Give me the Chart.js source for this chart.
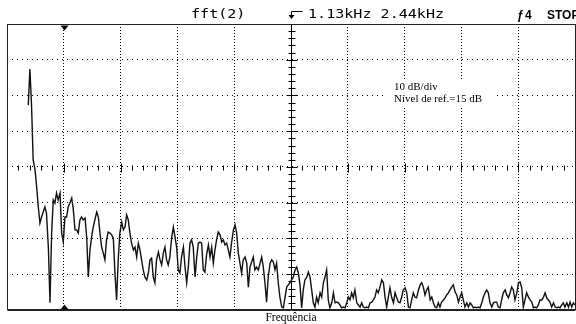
<!DOCTYPE html>
<html>
<head>
<meta charset="utf-8">
<title>fft(2)</title>
<script src="https://cdn.jsdelivr.net/npm/chart.js@4.4.1/dist/chart.umd.min.js"></script>
<style>
  html, body { margin: 0; padding: 0; background: #fff; }
  #wrap { width: 576px; height: 324px; position: relative; overflow: hidden; }
</style>
</head>
<body>
<div id="wrap"><canvas id="chart" width="576" height="324"></canvas></div>
<script>
// frequency of each FFT bin (Hz)
var freqHz = [
    0, 7, 14, 21, 29, 36, 43, 50, 57, 64,
    71, 78, 86, 93, 100, 107, 114, 121, 128, 136,
    143, 150, 157, 164, 171, 178, 186, 193, 200, 207,
    214, 221, 228, 235, 243, 250, 257, 264, 271, 278,
    285, 293, 300, 307, 314, 321, 328, 335, 342, 350,
    357, 364, 371, 378, 385, 392, 400, 407, 414, 421,
    428, 435, 442, 450, 457, 464, 471, 478, 485, 492,
    499, 507, 514, 521, 528, 535, 542, 549, 557, 564,
    571, 578, 585, 592, 599, 606, 614, 621, 628, 635,
    642, 649, 656, 664, 671, 678, 685, 692, 699, 706,
    714, 721, 728, 735, 742, 749, 756, 763, 771, 778,
    785, 792, 799, 806, 813, 821, 828, 835, 842, 849,
    856, 863, 870, 878, 885, 892, 899, 906, 913, 920,
    928, 935, 942, 949, 956, 963, 970, 977, 985, 992,
    999, 1006, 1013, 1020, 1027, 1035, 1042, 1049, 1056, 1063,
    1070, 1077, 1085, 1092, 1099, 1106, 1113, 1120, 1127, 1134,
    1142, 1149, 1156, 1163, 1170, 1177, 1184, 1192, 1199, 1206,
    1213, 1220, 1227, 1234, 1241, 1249, 1256, 1263, 1270, 1277,
    1284, 1291, 1299, 1306, 1313, 1320, 1327, 1334, 1341, 1349,
    1356, 1363, 1370, 1377, 1384, 1391, 1398, 1406, 1413, 1420,
    1427, 1434, 1441, 1448, 1456, 1463, 1470, 1477, 1484, 1491,
    1498, 1505, 1513, 1520, 1527, 1534, 1541, 1548, 1555, 1563,
    1570, 1577, 1584, 1591, 1598, 1605, 1613, 1620, 1627, 1634,
    1641, 1648, 1655, 1662, 1670, 1677, 1684, 1691, 1698, 1705,
    1712, 1720, 1727, 1734, 1741, 1748, 1755, 1762, 1769, 1777,
    1784, 1791, 1798, 1805, 1812, 1819, 1827, 1834, 1841, 1848,
    1855, 1862, 1869, 1877, 1884, 1891, 1898, 1905, 1912, 1919,
    1926, 1934, 1941, 1948, 1955, 1962, 1969, 1976, 1984, 1991,
    1998, 2005, 2012, 2019, 2026, 2033, 2041, 2048, 2055, 2062,
    2069, 2076, 2083, 2091, 2098, 2105, 2112, 2119, 2126, 2133,
    2141, 2148, 2155, 2162, 2169, 2176, 2183, 2190, 2198, 2205,
    2212, 2219, 2226, 2233, 2240, 2248, 2255, 2262, 2269, 2276,
    2283, 2290, 2297, 2305, 2312, 2319, 2326, 2333, 2340, 2347
];

// level of each bin (dB)
var levelDb = [
    -7.7, 2.4, -7.7, -23.0, -25.8, -30.6, -36.2, -40.7, -39.0, -37.6,
    -36.2, -37.9, -47.4, -63.0, -43.5, -34.2, -35.1, -32.3, -34.2, -32.3,
    -43.5, -46.0, -39.0, -39.0, -36.2, -35.1, -33.7, -37.0, -42.6, -42.6,
    -43.5, -39.8, -39.0, -39.8, -39.3, -44.6, -55.8, -48.2, -44.6, -41.8,
    -39.8, -37.6, -39.0, -43.5, -47.4, -49.1, -51.0, -45.4, -43.2, -43.5,
    -44.0, -44.9, -54.7, -62.2, -51.0, -43.5, -40.4, -42.6, -41.8, -38.4,
    -39.8, -43.5, -46.3, -48.2, -47.4, -50.2, -46.3, -48.2, -51.0, -53.8,
    -55.8, -56.6, -54.7, -51.0, -50.5, -55.8, -57.4, -51.0, -48.8, -51.0,
    -52.4, -49.1, -47.4, -51.0, -52.4, -50.2, -44.6, -41.8, -44.6, -47.4,
    -53.8, -54.7, -50.2, -47.4, -53.0, -57.4, -53.0, -46.3, -45.4, -47.4,
    -55.8, -50.2, -46.3, -46.0, -46.3, -53.8, -54.4, -49.6, -46.8, -50.2,
    -47.4, -51.9, -48.2, -45.4, -43.2, -44.0, -46.0, -45.4, -46.8, -46.3,
    -48.2, -50.2, -46.3, -42.6, -41.2, -43.5, -49.1, -51.9, -54.7, -51.0,
    -50.2, -51.9, -58.6, -53.0, -51.6, -50.2, -53.8, -53.0, -53.8, -51.9,
    -50.2, -53.0, -57.4, -62.8, -55.8, -51.9, -51.0, -51.6, -53.8, -51.9,
    -57.4, -61.4, -64.2, -64.4, -61.4, -58.6, -58.0, -57.4, -56.6, -55.8,
    -53.8, -53.0, -54.7, -58.0, -64.4, -59.4, -56.6, -55.8, -54.4, -55.8,
    -59.4, -63.0, -64.2, -61.4, -63.0, -60.2, -61.4, -57.4, -55.8, -53.8,
    -62.2, -64.4, -63.0, -60.2, -63.0, -62.8, -63.0, -63.6, -64.4, -64.2,
    -64.4, -63.0, -61.4, -62.2, -60.2, -61.6, -59.4, -63.0, -63.6, -64.2,
    -63.0, -64.2, -64.4, -64.2, -64.4, -63.0, -62.8, -62.2, -61.4, -59.4,
    -60.2, -58.6, -56.6, -57.4, -61.4, -64.2, -61.4, -58.8, -61.4, -63.0,
    -60.2, -61.6, -62.8, -63.0, -61.4, -59.4, -58.8, -60.2, -64.2, -64.4,
    -62.2, -60.2, -61.4, -61.6, -59.4, -58.0, -57.4, -58.6, -60.8, -59.4,
    -58.6, -62.2, -61.4, -63.0, -64.2, -64.4, -63.0, -64.2, -62.8, -62.2,
    -61.6, -60.8, -60.2, -59.4, -58.6, -58.0, -60.0, -60.8, -62.8, -61.4,
    -60.2, -62.2, -64.2, -63.0, -64.2, -63.0, -63.6, -64.4, -64.2, -64.4,
    -64.2, -64.4, -63.0, -61.4, -60.2, -59.4, -60.2, -63.0, -64.2, -63.0,
    -62.8, -62.8, -64.2, -64.4, -62.2, -60.2, -59.4, -60.8, -61.6, -60.2,
    -58.6, -59.4, -62.2, -60.2, -57.4, -57.2, -58.8, -64.2, -62.2, -60.2,
    -61.4, -62.2, -62.8, -64.4, -64.2, -64.4, -63.6, -62.2, -62.2, -61.4,
    -60.2, -61.6, -62.2, -62.8, -64.2, -63.0, -64.2, -64.4, -64.2, -64.4,
    -63.6, -63.0, -64.2, -63.0, -64.2, -62.8, -64.2, -63.0, -63.6, -63.0
];

// screen: 10 horizontal divisions, 8 vertical divisions of 10 dB, ref level 15 dB at top
var freqMin = -91, freqMax = 2340;
var dbMin = -65, dbMax = 15;
var xDivs = 10, yDivs = 8;

var headerLeft = 'fft(2)';
var headerFreq = '1.13kHz 2.44kHz';
var headerTrig = 'ƒ';
var headerChan = '4';
var headerRun = 'STOP';
var noteScale = '10 dB/div';
var noteRef = 'Nível de ref.=15 dB';

function divisionTicks(min, max, n) {
    var t = [];
    for (var k = 0; k <= n; k++) {
        t.push({ value: min + k * (max - min) / n });
    }
    return t;
}

// wide scope-style lettering
function wideText(c, text, x, y) {
    c.save();
    c.translate(x, y);
    c.scale(1.31, 1);
    c.fillText(text, 0, 0);
    c.restore();
}

var scopeDecor = {
    id: 'scopeDecor',
    beforeDatasetsDraw: function (chart) {
        var c = chart.ctx, a = chart.chartArea;
        var sx = chart.scales.x, sy = chart.scales.y;
        var cx = Math.round(sx.getPixelForValue((freqMin + freqMax) / 2)) + 0.5;
        var cy = Math.round(sy.getPixelForValue((dbMin + dbMax) / 2)) + 0.5;
        var stepY = (a.bottom - a.top) / (yDivs * 5);
        var stepX = (a.right - a.left) / (xDivs * 5);
        c.save();
        c.strokeStyle = '#000';
        c.lineWidth = 1;
        c.beginPath();
        c.moveTo(cx, a.top);
        c.lineTo(cx, a.bottom);
        for (var k = 1; k < yDivs * 5; k++) {
            var ty = Math.round(a.top + k * stepY) + 0.5;
            var w = k % 5 === 0 ? 5 : 3;
            c.moveTo(cx - w, ty);
            c.lineTo(cx + w + 1, ty);
        }
        for (var m = 1; m < xDivs * 5; m++) {
            var tx = Math.round(a.left + m * stepX) + 0.5;
            var h = m % 5 === 0 ? 4 : 2;
            c.moveTo(tx, cy - h);
            c.lineTo(tx, cy + h + 1);
        }
        c.stroke();

        // the note box hides the graticule behind it
        c.fillStyle = '#fff';
        c.fillRect(387, 79, 107, 27);
        c.restore();
    },
    afterDraw: function (chart) {
        var c = chart.ctx, a = chart.chartArea;
        var sx = chart.scales.x;
        var left = Math.round(a.left) + 0.5, right = Math.round(a.right) + 0.5;
        var top = Math.round(a.top) + 0.5, bottom = Math.round(a.bottom) - 0.5;
        c.save();
        // frame
        c.strokeStyle = '#222';
        c.lineWidth = 1;
        c.strokeRect(left, top, right - left, bottom - top);
        c.beginPath();
        c.moveTo(left, bottom + 1);
        c.lineTo(right, bottom + 1);
        c.stroke();

        // marker triangles on first division
        var mx = Math.round(sx.getPixelForValue(sx.ticks[1].value)) + 0.5;
        c.fillStyle = '#000';
        c.beginPath();
        c.moveTo(mx - 4, top + 1);
        c.lineTo(mx + 4, top + 1);
        c.lineTo(mx, top + 6);
        c.closePath();
        c.fill();
        c.beginPath();
        c.moveTo(mx - 4, bottom);
        c.lineTo(mx + 4, bottom);
        c.lineTo(mx, bottom - 5);
        c.closePath();
        c.fill();

        // delay marker in the header
        var cx = Math.round(sx.getPixelForValue((freqMin + freqMax) / 2)) + 0.5;
        c.strokeStyle = '#000';
        c.beginPath();
        c.moveTo(cx, 11.5);
        c.lineTo(cx + 11, 11.5);
        c.moveTo(cx, 11.5);
        c.lineTo(cx, 17);
        c.stroke();
        c.beginPath();
        c.moveTo(cx - 3, 15);
        c.lineTo(cx + 3, 15);
        c.lineTo(cx, 19);
        c.closePath();
        c.fill();

        c.textBaseline = 'alphabetic';
        c.textAlign = 'left';
        c.font = '11.5px "DejaVu Sans Mono", monospace';
        wideText(c, headerLeft, 191, 18);
        wideText(c, headerFreq, 308, 18);
        c.font = 'bold 12px "Liberation Sans", Arial, sans-serif';
        c.fillText(headerTrig, 517, 19);
        c.fillText(headerChan, 525, 19);
        c.fillText(headerRun, 547, 19);

        // annotation
        c.font = '11px "Liberation Serif", "Times New Roman", serif';
        c.fillText(noteScale, 394, 90);
        c.fillText(noteRef, 394, 102);
        c.restore();
    }
};

var ctx = document.getElementById('chart').getContext('2d');
var chart = new Chart(ctx, {
    type: 'line',
    data: {
        datasets: [{
            label: 'fft(2)',
            data: freqHz.map(function (f, i) { return { x: f, y: levelDb[i] }; }),
            borderColor: '#111',
            borderWidth: 1.4,
            pointRadius: 0,
            tension: 0,
            fill: false
        }]
    },
    options: {
        responsive: false,
        animation: false,
        devicePixelRatio: 1,
        layout: { padding: { left: 7, right: 1, top: 24, bottom: 0 } },
        plugins: {
            legend: { display: false },
            tooltip: { enabled: false }
        },
        scales: {
            x: {
                type: 'linear',
                min: freqMin,
                max: freqMax,
                afterBuildTicks: function (scale) {
                    scale.ticks = divisionTicks(freqMin, freqMax, xDivs);
                },
                ticks: { display: false },
                grid: { color: '#000', lineWidth: 1, drawTicks: false },
                border: { display: false, dash: [1, 2] },
                title: {
                    display: true,
                    text: 'Frequência',
                    color: '#000',
                    font: { family: '"Liberation Serif", "Times New Roman", serif', size: 11.5, lineHeight: 0.96 },
                    padding: { top: 3, bottom: 0 }
                }
            },
            y: {
                type: 'linear',
                min: dbMin,
                max: dbMax,
                afterBuildTicks: function (scale) {
                    scale.ticks = divisionTicks(dbMin, dbMax, yDivs);
                },
                ticks: { display: false },
                grid: { color: '#000', lineWidth: 1, drawTicks: false },
                border: { display: false, dash: [1, 4] }
            }
        }
    },
    plugins: [scopeDecor]
});
</script>
</body>
</html>
